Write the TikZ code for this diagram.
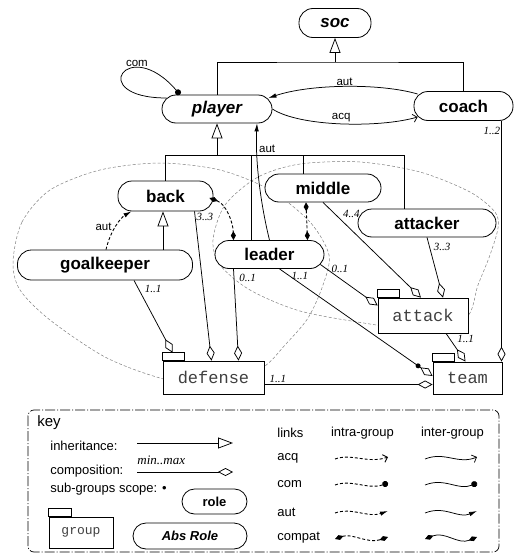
\documentclass[tikz,border=0pt]{standalone}
\usepackage{fontspec}
\setmainfont{Liberation Sans}
\setmonofont{Liberation Mono}
\newfontfamily\timesfont{Liberation Serif}
\usetikzlibrary{arrows.meta}

\begin{document}
\begin{tikzpicture}[x=1pt, y=-1pt, line width=0.75pt,
    role/.style={draw, fill=white, rounded corners=14pt, line width=0.8pt, minimum height=28pt, inner sep=0pt, font=\fontsize{17}{20}\selectfont\bfseries},
    absrole/.style={role, font=\fontsize{17}{20}\selectfont\bfseries\itshape},
    grp/.style={draw, fill=white, minimum height=33pt, inner sep=0pt, text=black!75, font=\fontsize{17}{20}\selectfont\ttfamily},
    mult/.style={inner sep=1pt, font=\fontsize{11}{12}\selectfont\timesfont\itshape},
    lbl/.style={inner sep=2pt, font=\fontsize{11.5}{13}\selectfont},
    keytxt/.style={inner sep=0pt, anchor=west, font=\fontsize{13}{15}\selectfont},
    inh/.style={-{Triangle[open, length=15pt, width=11pt]}},
    comp/.style={-{Diamond[open, length=15pt, width=8pt]}},
    scopedot/.style={circle, fill, inner sep=0pt, minimum size=5pt},
    aut/.style={-{Latex[length=8pt, width=4.5pt]}},
    acq/.style={-{Straight Barb[length=4pt, width=8pt]}},
    com/.style={-{Circle[length=6pt]}},
    compat/.style={{Diamond[length=9pt, width=5pt]}-{Diamond[length=9pt, width=5pt]}},
    intra/.style={line width=0.9pt, dash pattern=on 3pt off 2pt},
    scope/.style={gray, line width=0.5pt, dash pattern=on 3pt off 2pt},
    tab/.style={draw, line width=0.6pt}]
  \useasboundingbox (0,0) rectangle (514,554);

  % sub-group scopes
  \draw[scope] plot[smooth cycle] coordinates {(13,262) (22,222) (50,190) (100,170) (160,163) (220,170) (270,190) (310,222) (329,255) (323,285) (308,318) (285,345) (262,368) (215,388) (160,378) (105,357) (50,320) (20,290)};
  \draw[scope] plot[smooth cycle] coordinates {(213,240) (225,205) (258,177) (300,164) (360,162) (420,172) (470,192) (495,212) (498,228) (490,255) (478,285) (466,318) (420,330) (370,324) (300,311) (250,290) (220,265)};

  % roles
  \node[absrole, minimum width=72pt, minimum height=29pt] (soc) at (335,23) {soc};
  \node[absrole, minimum width=110pt] (player) at (217,109) {player};
  \node[role, minimum width=99pt, minimum height=29pt] (coach) at (463.5,106) {coach};
  \node[role, minimum width=95pt, minimum height=30pt] (back) at (165.5,196) {back};
  \node[role, minimum width=116pt] (middle) at (323,188) {middle};
  \node[role, minimum width=138pt] (attacker) at (427,223) {attacker};
  \node[role, minimum width=175pt, minimum height=30pt] (goalkeeper) at (105,265) {goalkeeper};
  \node[role, minimum width=109pt] (leader) at (269.5,254.5) {leader};

  % groups
  \node[grp, minimum width=90pt, minimum height=35pt] (attack) at (423,315.5) {attack};
  \node[grp, minimum width=101pt] (defense) at (213.5,377.5) {defense};
  \node[grp, minimum width=69pt, minimum height=32pt] (team) at (467.5,378) {team};
  \foreach \g in {attack, defense, team}
    \draw[tab] (\g.north west) rectangle ++(22,-8);

  % inheritance
  \coordinate (socbar) at (335,62);
  \draw (player.north) |- (socbar) -| (coach.north);
  \draw[inh] (socbar) -- (soc.south);
  \coordinate (plbar) at (217,155);
  \draw[inh] (plbar) -- (player.south);
  \draw (back.north) |- (plbar);
  \draw ([xshift=-18pt]leader.north) |- (plbar);
  \draw ([xshift=-20pt]middle.north) |- (plbar);
  \draw ([xshift=-23pt]attacker.north) |- (plbar);
  \coordinate (gkup) at ([xshift=58pt]goalkeeper.north);
  \draw[inh] (gkup) -- (gkup |- back.south);

  % compositions
  \draw[comp] ([xshift=29pt]goalkeeper.south) -- node[mult, pos=0.12, right=5pt] (m1) {1..1} ([xshift=-41pt, yshift=8pt]defense.north);
  \draw[comp] ([xshift=29pt]back.south) -- node[mult, pos=0.04, right] (m2) {3..3} ([xshift=-2pt]defense.north);
  \draw[comp] ([xshift=-36pt]leader.south) -- node[mult, pos=0.1, right=4pt] (m3) {0..1} ([xshift=25pt]defense.north);
  \draw[comp] ([xshift=10pt]leader.south) -- node[mult, pos=0.07, right] (m4) {1..1} node[scopedot, pos=0.905] (ldot) {} ([yshift=2pt]team.west);
  \draw[comp] ([xshift=-4pt, yshift=-10pt]leader.east) -- node[mult, pos=0.1, right=4pt] (m5) {0..1} ([yshift=10pt]attack.west);
  \draw[comp] (middle.south) -- node[mult, pos=0.12, right=7pt] (m6) {4..4} ([xshift=-2pt]attack.north);
  \draw[comp] (attacker.south) -- node[mult, pos=0.16, right=3pt] (m7) {3..3} ([xshift=20pt]attack.north);
  \draw[comp] ([xshift=23pt]attack.south) -- node[mult, pos=0.2, right=6pt] (m8) {1..1} ([xshift=-2pt]team.north);
  \coordinate (coachfoot) at ([xshift=34pt]team.north |- coach.south);
  \draw[comp] (coachfoot) -- node[mult, pos=0.04, left] (m9) {1..2} ([xshift=34pt]team.north);
  \draw[comp] ([yshift=-7pt]defense.east) -- node[mult, pos=0.08, above] (m10) {1..1} ([yshift=-7pt]defense.east -| team.west);

  % links
  \draw[aut] ([xshift=4pt, yshift=12pt]coach.west) .. controls (380,83) and (310,84) .. node[lbl, midway, above, inner sep=0.5pt] (l1) {aut} ([xshift=-4pt, yshift=11pt]player.east);
  \draw[acq] (player.east) .. controls (300,127) and (380,128) .. node[lbl, midway, above] (l2) {acq} ([xshift=4pt, yshift=-11pt]coach.west);
  \draw[com] ([xshift=5pt, yshift=11pt]player.west) .. controls (85,98) and (128,34) .. node[lbl, pos=0.62, above, xshift=6pt] (l3) {com} ([xshift=-37pt]player.north);
  \draw[aut] (leader.north) .. controls (262,210) and (255,165) .. node[lbl, pos=0.8, right] (l4) {aut} ([xshift=40pt]player.south);
  \draw[aut, intra] ([xshift=1pt]goalkeeper.north) .. controls (110,232) and (120,218) .. node[lbl, midway, left, xshift=-2pt] (l5) {aut} ([xshift=-34pt]back.south);
  \draw[compat, intra] ([xshift=-4pt, yshift=-2pt]back.east) .. controls (226,204) and (233,222) .. ([xshift=-36pt]leader.north);
  \draw[compat, intra] ([xshift=-17pt]middle.south) -- ([xshift=38pt]leader.north);

  % key
  \draw[rounded corners=6pt, line width=0.7pt, dash pattern=on 10pt off 2pt on 1pt off 2pt] (28,410) rectangle (499,552);
  \node[keytxt, font=\fontsize{15}{17}\selectfont] (kkey) at (37,423) {key};
  \node[keytxt] (kinh) at (50,446) {inheritance:};
  \draw[inh] (137,443) -- (233,443);
  \node[mult, anchor=west, font=\fontsize{13}{15}\selectfont\timesfont\itshape] (kmm) at (136,460) {min..max};
  \node[keytxt] (kcomp) at (50,471) {composition:};
  \draw[comp] (137,472) -- (233,472);
  \node[keytxt] (kscope) at (50,489) {sub-groups scope: \textbullet};
  \node[role, minimum width=65pt, minimum height=25pt, rounded corners=12.5pt, font=\fontsize{13}{15}\selectfont\bfseries] (krole) at (214.5,501.5) {role};
  \node[absrole, minimum width=114pt, minimum height=26pt, rounded corners=13pt, font=\fontsize{13}{15}\selectfont\bfseries\itshape] (kabs) at (190,536) {Abs Role};
  \node[grp, minimum width=64pt, minimum height=31pt, font=\fontsize{13}{15}\selectfont\ttfamily] (kgrp) at (81,532.5) {group};
  \draw[tab] (kgrp.north west) rectangle ++(23,-8);
  \node[keytxt] (klinks) at (277,433) {links};
  \node[keytxt, anchor=center] (kintra) at (362.5,433) {intra-group};
  \node[keytxt, anchor=center] (kinter) at (452.5,433) {inter-group};
  \foreach \y/\lnk in {458/acq, 484/com, 512/aut, 538/compat} {
    \node[keytxt] (k-\lnk) at (277,\y) {\lnk};
    \draw[\lnk, intra] (335,\y+1) .. controls (352,\y-5) and (368,\y+6) .. (388,\y-1);
    \draw[\lnk] (425,\y+1) .. controls (445,\y-7) and (458,\y+7) .. (477,\y-1);
  }
\end{tikzpicture}
\end{document}
